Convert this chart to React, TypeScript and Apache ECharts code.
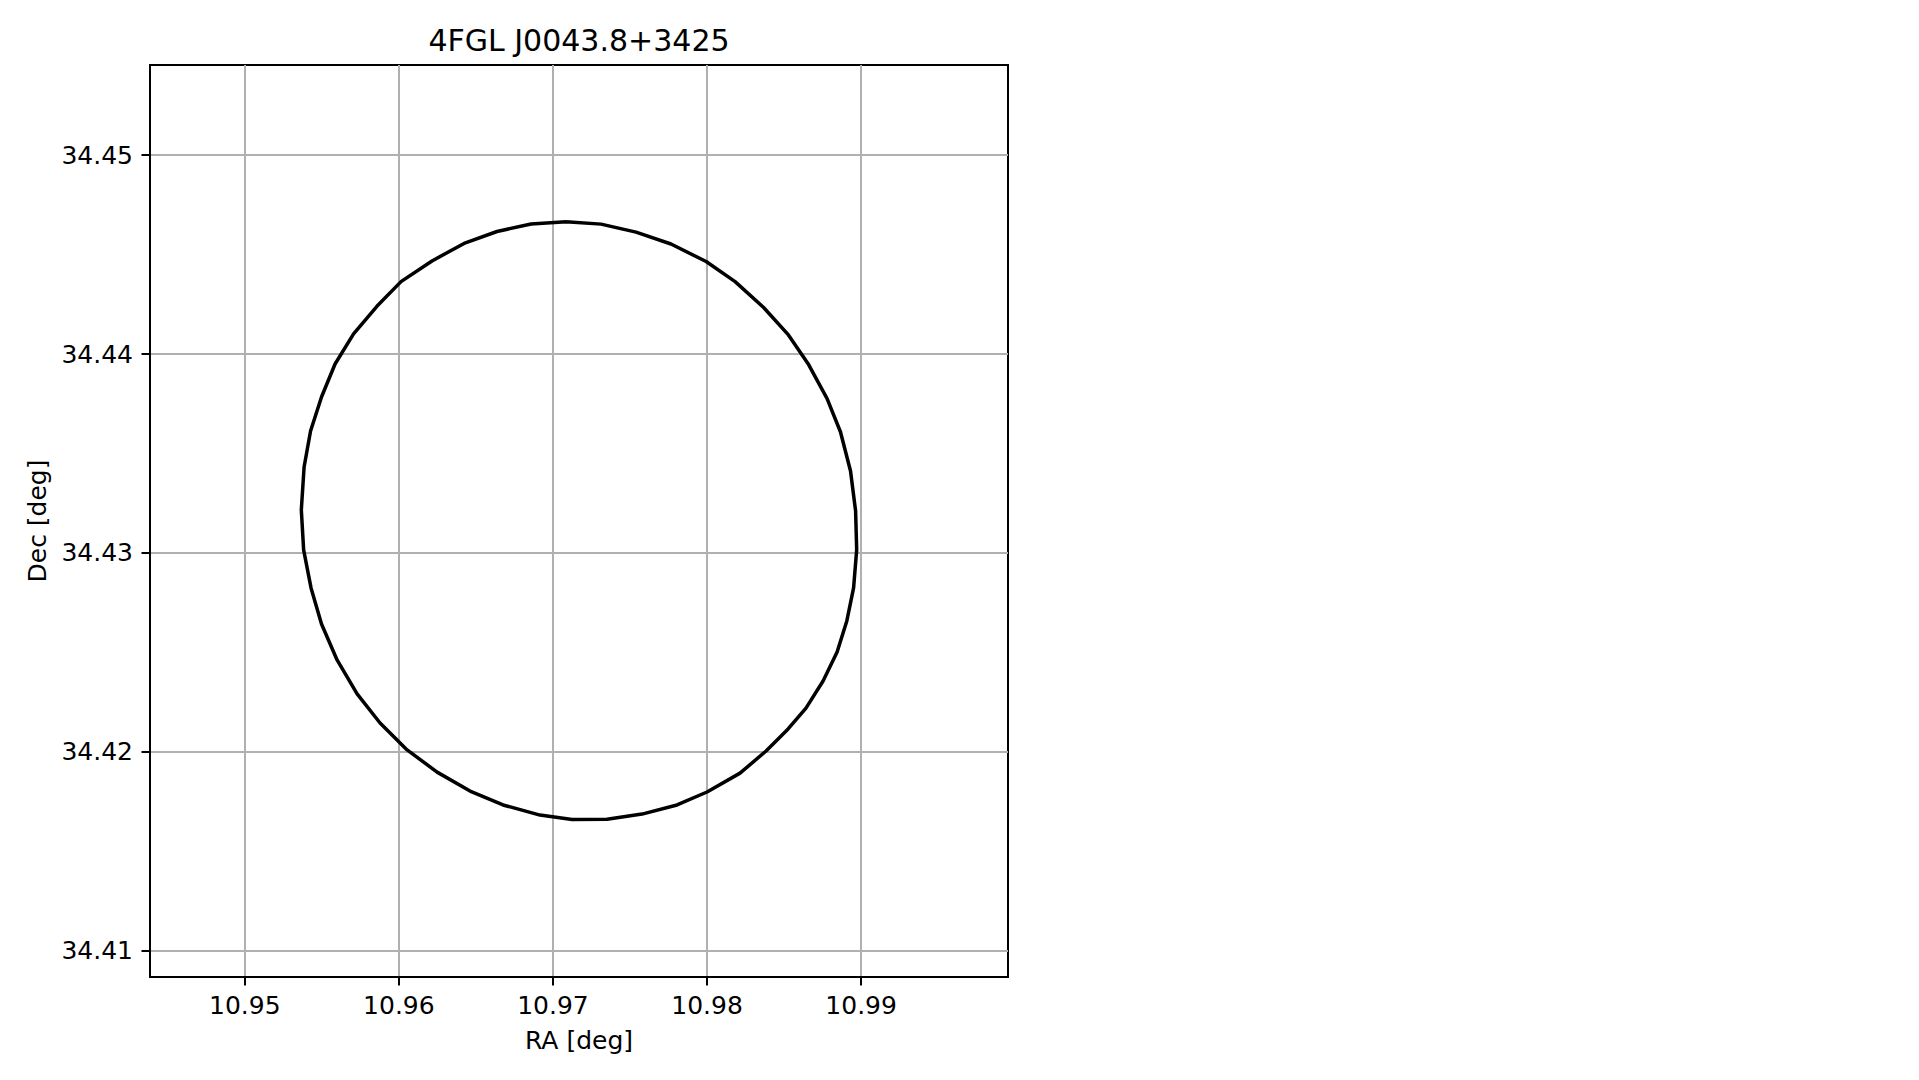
import React, { useEffect, useRef } from "react";
import * as echarts from "echarts";

const titleText = "4FGL J0043.8+3425";
const xAxisName = "RA [deg]";
const yAxisName = "Dec [deg]";

const raMin = 10.94385;
const raMax = 10.99953;
const decMin = 34.40868;
const decMax = 34.45453;

const raTicks = [10.95, 10.96, 10.97, 10.98, 10.99];
const decTicks = [34.41, 34.42, 34.43, 34.44, 34.45];

const ellipseRA = [
  10.97085, 10.97312, 10.97539, 10.97766, 10.97994, 10.98182, 10.98367, 10.98528,
  10.98659, 10.98779, 10.98866, 10.98931, 10.98964, 10.98971, 10.98951, 10.98907,
  10.98844, 10.98753, 10.98642, 10.98526, 10.98383, 10.98214, 10.98, 10.97805,
  10.97578, 10.97351, 10.97124, 10.96916, 10.96676, 10.96462, 10.96248, 10.96047,
  10.95878, 10.95729, 10.95599, 10.95498, 10.9543, 10.95382, 10.95367, 10.95385,
  10.95427, 10.95498, 10.95586, 10.95706, 10.95859, 10.96014, 10.96215, 10.96423,
  10.96637, 10.96858, 10.97085,
];

const ellipseDec = [
  34.44665, 34.44653, 34.44613, 34.44553, 34.44465, 34.44364, 34.44234, 34.44096,
  34.43947, 34.43776, 34.43608, 34.43412, 34.43211, 34.43015, 34.42824, 34.42658,
  34.42502, 34.42356, 34.4222, 34.42115, 34.42004, 34.41893, 34.41798, 34.41733,
  34.41687, 34.41661, 34.4166, 34.41682, 34.41733, 34.41803, 34.41898, 34.42014,
  34.42145, 34.42291, 34.42462, 34.42643, 34.42824, 34.43015, 34.43216, 34.43432,
  34.43613, 34.43784, 34.4395, 34.44101, 34.44241, 34.44364, 34.44468, 34.44556,
  34.44616, 34.44654, 34.44665,
];

const FONT = "DejaVu Sans";

export default function App() {
  const ref = useRef<HTMLDivElement>(null);

  useEffect(() => {
    if (!ref.current) return;
    const chart = echarts.init(ref.current, undefined, { renderer: "svg" });
    const data = ellipseRA.map((ra, i) => [ra, ellipseDec[i]]);

    chart.setOption({
      animation: false,
      backgroundColor: "#ffffff",
      title: {
        text: titleText,
        left: 579,
        top: 25,
        padding: 0,
        textAlign: "center",
        textStyle: {
          fontFamily: FONT,
          fontSize: 30,
          fontWeight: "normal",
          color: "#000000",
        },
      },
      grid: {
        left: 150,
        top: 65,
        width: 858,
        height: 912,
        show: true,
        borderColor: "#000000",
        borderWidth: 2,
        backgroundColor: "transparent",
      },
      xAxis: {
        type: "value",
        min: raMin,
        max: raMax,
        name: xAxisName,
        nameLocation: "middle",
        nameGap: 50.5,
        nameTextStyle: { fontFamily: FONT, fontSize: 25, color: "#000000" },
        axisLine: { show: true, lineStyle: { color: "#000000", width: 2 } },
        axisTick: {
          show: true,
          length: 8.5,
          lineStyle: { color: "#000000", width: 2 },
          customValues: raTicks,
        },
        axisLabel: {
          show: true,
          margin: 16,
          fontFamily: FONT,
          fontSize: 25,
          color: "#000000",
          customValues: raTicks,
          formatter: (v: number) => v.toFixed(2),
        },
        splitLine: {
          show: true,
          lineStyle: { color: "#b0b0b0", width: 2 },
        },
      },
      yAxis: {
        type: "value",
        min: decMin,
        max: decMax,
        name: yAxisName,
        nameLocation: "middle",
        nameGap: 100,
        nameRotate: 90,
        nameTextStyle: { fontFamily: FONT, fontSize: 25, color: "#000000" },
        axisLine: { show: true, lineStyle: { color: "#000000", width: 2 } },
        axisTick: {
          show: true,
          length: 8.5,
          lineStyle: { color: "#000000", width: 2 },
          customValues: decTicks,
        },
        axisLabel: {
          show: true,
          margin: 17,
          fontFamily: FONT,
          fontSize: 25,
          color: "#000000",
          customValues: decTicks,
          formatter: (v: number) => v.toFixed(2),
        },
        splitLine: {
          show: true,
          lineStyle: { color: "#b0b0b0", width: 2 },
        },
      },
      series: [
        {
          type: "line",
          data,
          symbol: "none",
          smooth: false,
          clip: true,
          lineStyle: { color: "#000000", width: 3.5 },
          z: 5,
        },
      ],
    });

    return () => chart.dispose();
  }, []);

  return (
    <div
      ref={ref}
      style={{ position: "fixed", left: 0, top: 0, width: 1919, height: 1080 }}
    />
  );
}
